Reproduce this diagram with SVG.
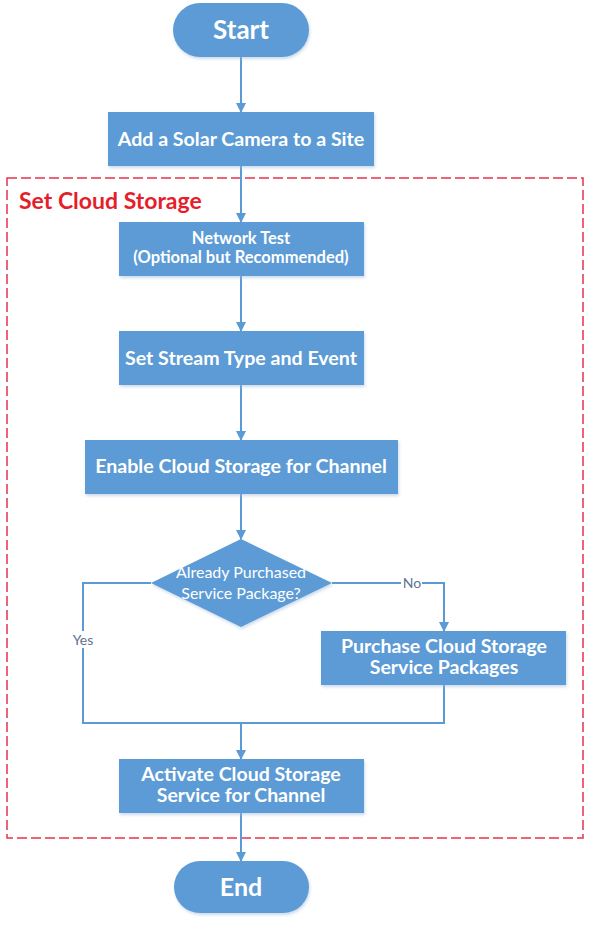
<svg xmlns="http://www.w3.org/2000/svg" width="591" height="925" viewBox="0 0 591 925">
<style>
.box{fill:#5B9BD5;filter:url(#sh)}
.t{font-family:Lato,"Liberation Sans",sans-serif;font-weight:bold;fill:#fff;text-anchor:middle}
.d{font-family:Lato,"Liberation Sans",sans-serif;font-weight:normal;fill:#fff;text-anchor:middle;font-size:16px}
.lbl{font-family:Lato,"Liberation Sans",sans-serif;fill:#5E7391;text-anchor:middle;font-size:14px}
.c{fill:none;stroke:#5B9BD5;stroke-width:2}
</style>
<defs>
<marker id="ah" markerWidth="10" markerHeight="10" refX="9" refY="5" orient="auto" markerUnits="userSpaceOnUse">
<path d="M0,0 L10,5 L0,10 Z" fill="#5B9BD5"/>
</marker>
<filter id="sh" x="-10%" y="-10%" width="120%" height="130%">
<feDropShadow dx="1" dy="2" stdDeviation="1.5" flood-color="#9DB8D8" flood-opacity="0.5"/>
</filter>
</defs>
<rect width="591" height="925" fill="#fff"/>
<g id="group-cloud">
<rect x="7" y="178" width="576" height="660" fill="none" stroke="#E8324A" stroke-width="1.5" stroke-dasharray="10,4"/>
<text x="19" y="209" font-family="Lato,'Liberation Sans',sans-serif" font-weight="bold" font-size="23" fill="#E61E2A">Set Cloud Storage</text>
</g>
<g id="connectors">
<path class="c" d="M241,57 V112" marker-end="url(#ah)"/>
<path class="c" d="M241,166 V222" marker-end="url(#ah)"/>
<path class="c" d="M241,276 V331" marker-end="url(#ah)"/>
<path class="c" d="M241,385 V440" marker-end="url(#ah)"/>
<path class="c" d="M241,494 V539" marker-end="url(#ah)"/>
<path class="c" d="M151,583 H83 V723 H444 V685"/>
<path class="c" d="M332,583 H444 V631" marker-end="url(#ah)"/>
<path class="c" d="M241,723 V759" marker-end="url(#ah)"/>
<path class="c" d="M241,813 V861" marker-end="url(#ah)"/>
<rect x="401" y="574" width="21" height="17" fill="#fff"/>
<text class="lbl" x="412" y="588">No</text>
<rect x="70" y="631" width="27" height="17" fill="#fff"/>
<text class="lbl" x="83" y="645">Yes</text>
</g>
<g id="start">
<rect class="box" x="173" y="3" width="136" height="54" rx="27"/>
<text class="t" x="241" y="39" font-size="26">Start</text>
</g>
<g id="add-camera">
<rect class="box" x="108" y="112" width="266" height="54"/>
<text class="t" x="241" y="146" font-size="19.6">Add a Solar Camera to a Site</text>
</g>
<g id="network-test">
<rect class="box" x="119" y="222" width="245" height="54"/>
<text class="t" x="241" y="244" font-size="16.5">Network Test</text>
<text class="t" x="241" y="263" font-size="16.5">(Optional but Recommended)</text>
</g>
<g id="stream-type">
<rect class="box" x="119" y="331" width="245" height="54"/>
<text class="t" x="241" y="365" font-size="19.6">Set Stream Type and Event</text>
</g>
<g id="enable-cloud">
<rect class="box" x="85" y="440" width="313" height="54"/>
<text class="t" x="241" y="473" font-size="19.6">Enable Cloud Storage for Channel</text>
</g>
<g id="decision">
<polygon points="241,539 332,583 241,627 151,583" fill="#5B9BD5" filter="url(#sh)"/>
<text class="d" x="241" y="578">Already Purchased</text>
<text class="d" x="241" y="599">Service Package?</text>
</g>
<g id="purchase">
<rect class="box" x="321" y="631" width="245" height="54"/>
<text class="t" x="444" y="653" font-size="19.5">Purchase Cloud Storage</text>
<text class="t" x="444" y="674" font-size="19.5">Service Packages</text>
</g>
<g id="activate">
<rect class="box" x="119" y="759" width="245" height="54"/>
<text class="t" x="241" y="781" font-size="19.5">Activate Cloud Storage</text>
<text class="t" x="241" y="802" font-size="19.5">Service for Channel</text>
</g>
<g id="end">
<rect class="box" x="174" y="861" width="135" height="52" rx="26"/>
<text class="t" x="241" y="896" font-size="25">End</text>
</g>
</svg>
